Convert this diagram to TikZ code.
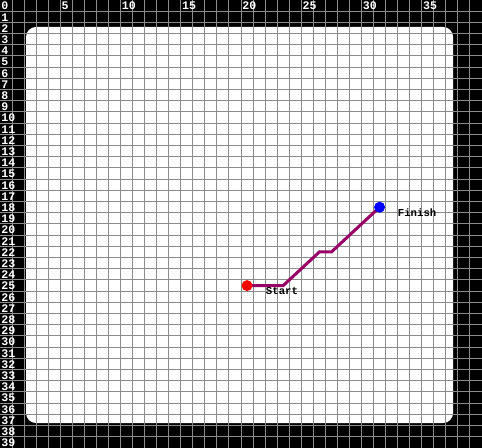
\documentclass[tikz,border=0pt]{standalone}
\usepackage{fontspec}
\setmonofont{Liberation Mono}
\usepackage{xcolor}
\usetikzlibrary{positioning}
\definecolor{routepurple}{HTML}{990066}
\definecolor{gridgray}{HTML}{8C8C8C}

\begin{document}
\begin{tikzpicture}[
    x={(9.0375pt,0pt)}, y={(0pt,-8.4pt)},
    font=\ttfamily\bfseries\fontsize{8}{9}\selectfont,
    gridline/.style={draw=gridgray, line width=0.75pt},
    axislabel/.style={text=white, anchor=west, inner sep=0pt,
        font=\ttfamily\bfseries\fontsize{8.7}{9}\selectfont},
    marker/.style={circle, inner sep=0pt, minimum size=8.25pt},
    route/.style={draw=routepurple, line width=2.25pt},
    tag/.style={anchor=west, inner sep=0pt},
]
    % board
    \fill[black] (0,0) rectangle (40,40);
    \useasboundingbox (0,0) rectangle (40,40);
    \fill[white, rounded corners=7.5pt] (2.16,2.41) rectangle (37.6,37.77);
    \foreach \i in {1,...,39} {
        \draw[gridline] (\i,0) -- (\i,40);
        \draw[gridline] (0,\i) -- (40,\i);
    }
    % axis numbers
    \foreach \r in {0,...,39}
        \node[axislabel] (row\r) at (0.1,\r+0.55) {\r};
    \foreach \c in {5,10,...,35}
        \node[axislabel] (col\c) at (\c+0.1,0.55) {\c};
    % route
    \coordinate (start) at (20.5,25.5);
    \coordinate (bendA) at (23.5,25.5);
    \coordinate (bendB) at (26.5,22.5);
    \coordinate (bendC) at (27.5,22.5);
    \coordinate (finish) at (31.5,18.5);
    \draw[route] (start) -- (bendA) -- (bendB) -- (bendC) -- (finish);
    \node[marker, fill=red] (startdot) at (start) {};
    \node[marker, fill=blue] (finishdot) at (finish) {};
    \node[tag] (startlabel) at (22.05,26.0) {Start};
    \node[tag] (finishlabel) at (33.0,19.0) {Finish};
\end{tikzpicture}
\end{document}
